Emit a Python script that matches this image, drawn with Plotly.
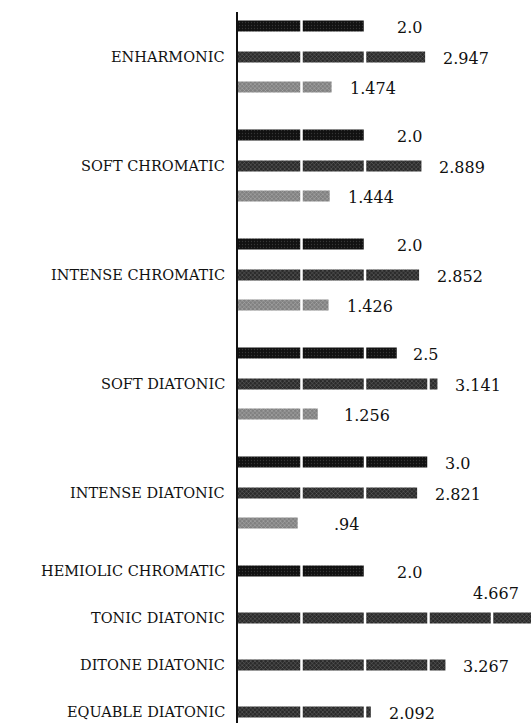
import plotly.graph_objects as go

# ---------------- data ----------------
categories = ["ENHARMONIC", "SOFT CHROMATIC", "INTENSE CHROMATIC", "SOFT DIATONIC",
              "INTENSE DIATONIC", "HEMIOLIC CHROMATIC", "TONIC DIATONIC",
              "DITONE DIATONIC", "EQUABLE DIATONIC"]
series_a = [2.0, 2.0, 2.0, 2.5, 3.0, 2.0, None, None, None]
series_b = [2.947, 2.889, 2.852, 3.141, 2.821, None, 4.667, 3.267, 2.092]
series_c = [1.474, 1.444, 1.426, 1.256, 0.94, None, None, None, None]
labels_a = ["2.0", "2.0", "2.0", "2.5", "3.0", "2.0", None, None, None]
labels_b = ["2.947", "2.889", "2.852", "3.141", "2.821", None, "4.667", "3.267", "2.092"]
labels_c = ["1.474", "1.444", "1.426", "1.256", ".94", None, None, None, None]

# ---------------- layout logic ----------------
PX_PER_UNIT = 63.5
LEFT = 238
W, H = 531, 723
TOP = 12
XMAX = (W - LEFT) / PX_PER_UNIT

series = [series_a, series_b, series_c]
labels = [labels_a, labels_b, labels_c]
styles = [
    dict(color="#111111", pattern=dict(shape=".", fgcolor="#5a5a5a", bgcolor="#111111", size=3, solidity=0.15)),
    dict(color="#2a2a2a", pattern=dict(shape="x", fgcolor="#c8c8c8", bgcolor="#2a2a2a", size=3, solidity=0.25)),
    dict(color="#8a8a8a", pattern=dict(shape="x", fgcolor="#e6e6e6", bgcolor="#808080", size=3, solidity=0.3)),
]

ys = [[], [], []]
xs = [[], [], []]
cat_y = []
cursor = 26.0
for i, cat in enumerate(categories):
    present = [k for k in range(3) if series[k][i] is not None]
    if len(present) == 3:
        rows = [cursor, cursor + 31, cursor + 61]
        cat_y.append(cursor + 31)
        cursor += 109
    else:
        rows = [cursor]
        cat_y.append(cursor)
        cursor += 47
    for r, k in zip(rows, present):
        ys[k].append(r)
        xs[k].append(series[k][i])

fig = go.Figure()
for k in range(3):
    fig.add_trace(go.Bar(x=xs[k], y=ys[k], orientation="h", width=11,
                         marker=dict(color=styles[k]["color"], pattern=styles[k]["pattern"],
                                     line=dict(width=0)),
                         showlegend=False, hoverinfo="skip"))

annotations = []
VFONT = dict(family="DejaVu Serif", size=16, color="#111")
# value labels
for k in range(3):
    j = 0
    for i in range(len(categories)):
        v = series[k][i]
        if v is None:
            continue
        y = ys[k][j]
        j += 1
        txt = labels[k][i]
        if v > XMAX:
            annotations.append(dict(x=XMAX, y=y, xref="x", yref="y", text=txt, showarrow=False,
                                    xanchor="right", yanchor="middle", xshift=-10, yshift=25,
                                    font=VFONT))
            continue
        shift = 16
        if k == 0:
            shift = 30 if v < 2.4 else 14
        if k == 2 and v < 1.3:
            shift = 24 if v > 1 else 34
        annotations.append(dict(x=v, y=y, xref="x", yref="y", text=txt, showarrow=False,
                                xanchor="left", yanchor="middle", xshift=shift, yshift=-1,
                                font=VFONT))
# category labels
for cat, y in zip(categories, cat_y):
    annotations.append(dict(x=0, y=y, xref="paper", yref="y", text=cat, showarrow=False,
                            xanchor="right", yanchor="middle", xshift=-11,
                            font=dict(family="DejaVu Serif", size=14.5, color="#111")))

# white gaps separating unit segments
shapes = []
for u in range(1, 6):
    shapes.append(dict(type="line", xref="x", yref="paper", x0=u, x1=u, y0=0, y1=1,
                       line=dict(color="white", width=2.5), layer="above"))

fig.update_layout(
    width=W, height=H,
    margin=dict(l=LEFT, r=0, t=TOP, b=0),
    paper_bgcolor="white", plot_bgcolor="white",
    barmode="overlay",
    xaxis=dict(range=[0, XMAX], visible=False, fixedrange=True),
    yaxis=dict(range=[H, TOP], showline=True, linecolor="#111", linewidth=2,
               showgrid=False, zeroline=False, showticklabels=False, ticks="", fixedrange=True),
    annotations=annotations,
    shapes=shapes,
)
fig.write_html("out.html", config={"displayModeBar": False, "staticPlot": True},
               post_script="document.body.style.margin='0';")
